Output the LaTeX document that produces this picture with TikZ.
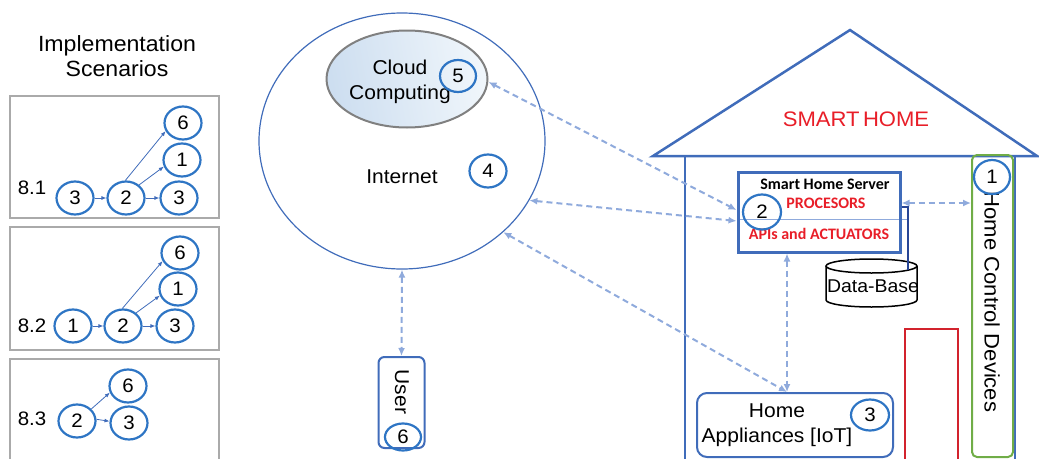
\documentclass[tikz,border=0pt]{standalone}
\usepackage{fontspec}
\setmainfont[FakeStretch=1.05]{Liberation Sans}
\newfontfamily\carl{Carlito}
\usetikzlibrary{shapes.geometric,arrows.meta,calc}
\definecolor{numblue}{RGB}{46,117,196}
\definecolor{houseblue}{RGB}{64,108,186}
\definecolor{dashblue}{RGB}{143,170,220}
\definecolor{txtred}{RGB}{232,30,40}
\definecolor{rectred}{RGB}{210,35,45}
\definecolor{hgreen}{RGB}{112,173,71}
\definecolor{boxgrey}{RGB}{170,170,170}
\definecolor{dbline}{RGB}{40,70,150}
\definecolor{cloudA}{RGB}{205,222,240}
\definecolor{cloudB}{RGB}{240,246,251}
\tikzset{
  num/.style={ellipse, draw=numblue, line width=2.2pt, minimum width=37pt, minimum height=33pt, inner sep=0pt, font=\fontsize{19.5}{19.5}\selectfont},
  sarr/.style={draw=houseblue, line width=0.8pt, -{Latex[length=5pt,width=4pt]}},
  dasharr/.style={draw=dashblue, line width=2pt, dash pattern=on 6pt off 4pt, {Latex[length=8pt,width=7pt]}-{Latex[length=8pt,width=7pt]}},
  scbox/.style={draw=boxgrey, line width=2pt, inner sep=0pt},
  lbl/.style={inner sep=0pt, font=\fontsize{19.5}{19.5}\selectfont},
  big/.style={inner sep=0pt, align=center, font=\fontsize{20}{25}\selectfont},
  srv/.style={inner sep=0pt, font=\carl\bfseries\fontsize{16}{16}\selectfont}
}
\begin{document}
\begin{tikzpicture}[x=1pt,y=-1pt]
\useasboundingbox (0,0) rectangle (1039,458);

% ---------- Implementation scenarios ----------
\node[inner sep=0pt, align=center, font=\fontsize{22}{25}\selectfont] (title) at (117,56) {Implementation\\Scenarios};

\node[scbox, minimum width=209pt, minimum height=122pt] (box81) at (114.5,157) {};
\node[scbox, minimum width=209pt, minimum height=123pt] (box82) at (114.5,288.5) {};
\node[scbox, minimum width=209pt, minimum height=112pt] (box83) at (114.5,415) {};

\node[lbl] (l81) at (32,188) {8.1};
\node[num] (s1a) at (75,198) {3};
\node[num] (s1b) at (126,198) {2};
\node[num] (s1c) at (179,198) {3};
\node[num] (s1d) at (182,160) {1};
\node[num] (s1e) at (183,123) {6};
\draw[sarr] (s1a) -- (s1b);
\draw[sarr] (s1b) -- (s1c);
\draw[sarr] (s1b.45) -- (s1d.200);
\draw[sarr] (s1b.92) -- (s1e.205);

\node[lbl] (l82) at (32,326) {8.2};
\node[num] (s2a) at (73,326) {1};
\node[num] (s2b) at (123,326) {2};
\node[num] (s2c) at (175,326) {3};
\node[num] (s2d) at (178,289) {1};
\node[num] (s2e) at (180,253) {6};
\draw[sarr] (s2a) -- (s2b);
\draw[sarr] (s2b) -- (s2c);
\draw[sarr] (s2b.45) -- (s2d.200);
\draw[sarr] (s2b.92) -- (s2e.205);

\node[lbl] (l83) at (32,419) {8.3};
\node[num] (s3a) at (77,421) {2};
\node[num] (s3b) at (128,386) {6};
\node[num] (s3c) at (129,423) {3};
\draw[sarr] (s3a.40) -- (s3b.200);
\draw[sarr] (s3a.5) -- (s3c.175);

% ---------- Internet ----------
\node[ellipse, draw=houseblue, line width=1.2pt, minimum width=286pt, minimum height=256pt] (inet) at (402,141) {};
\node[ellipse, draw=gray, line width=2pt, minimum width=161pt, minimum height=97pt, left color=cloudA, right color=cloudB, shading angle=100] (cloud) at (407,79) {};
\node[big] (cloudlbl) at (400,82) {Cloud\\Computing};
\node[num, minimum width=36pt, minimum height=32pt] (n5) at (458,76) {5};
\node[big] (inetlbl) at (402,177) {Internet};
\node[num] (n4) at (488,171) {4};

% ---------- User ----------
\node[draw=houseblue, line width=2pt, rounded corners=6pt, minimum width=46pt, minimum height=91pt, inner sep=0pt] (user) at (401.5,402.5) {};
\node[big, rotate=-90] (userlbl) at (402,392) {User};
\node[num, minimum width=36pt, minimum height=27pt] (n6) at (403,437) {6};

% ---------- House ----------
\draw[houseblue, line width=2.5pt, line join=miter] (653,156) -- (850,30) -- (1037,156) -- cycle;
\draw[houseblue, line width=2.5pt] (685,156) -- (685,460);
\draw[houseblue, line width=2.5pt] (1015,156) -- (1015,460);
\node[inner sep=0pt, text=txtred, font=\fontsize{21}{21}\selectfont] (smarthome) at (856,119) {SMART\,HOME};

% Home control devices
\node[draw=hgreen, line width=2pt, rounded corners=5pt, minimum width=41pt, minimum height=302pt, inner sep=0pt] (hcd) at (992.5,306) {};
\node[inner sep=0pt, rotate=-90, font=\fontsize{21}{21}\selectfont] (hcdlbl) at (992,302) {Home Control Devices};
\node[num, minimum width=36pt, minimum height=34pt] (n1) at (992,177) {1};

% red rectangle
\node[draw=rectred, line width=2pt, minimum width=53pt, minimum height=144pt, inner sep=0pt] (redbox) at (931.5,401) {};

% Server
\draw[dashblue, line width=1pt] (740,219) -- (908,219);
\node[draw=houseblue, line width=3pt, minimum width=162pt, minimum height=80pt, inner sep=0pt] (server) at (819,212) {};
\node[srv] (srvt) at (825,184) {Smart Home Server};
\node[srv, text=txtred] (proc) at (826,203) {PROCESORS};
\node[srv, text=txtred] (apis) at (819,234) {APIs and ACTUATORS};
\node[num, minimum width=38pt, minimum height=35pt] (n2) at (762,212) {2};

% Database
\node[inner sep=0pt, minimum width=91pt, minimum height=48pt] (db) at (871.5,283) {};
\fill[white] (826,266) -- (826,300) arc[start angle=180,end angle=360,x radius=45.5pt,y radius=7pt] -- (917,266) -- cycle;
\draw[black, line width=1.5pt] (826,266) -- (826,300) arc[start angle=180,end angle=360,x radius=45.5pt,y radius=7pt] -- (917,266);
\draw[black, line width=1.5pt, fill=white] (871.5,266) ellipse[x radius=45.5pt, y radius=7pt];
\draw[dbline, line width=1.2pt] ([yshift=5pt]server.east) -| ([xshift=36.5pt,yshift=-11pt]db.north);
\node[inner sep=0pt, font=\fontsize{18.5}{18.5}\selectfont] (dblbl) at (873,286) {Data-Base};

% Home appliances
\node[draw=houseblue, line width=2pt, rounded corners=10pt, minimum width=196pt, minimum height=64pt, inner sep=0pt] (app) at (795,425) {};
\node[big] (applbl) at (777,425) {Home\\Appliances [IoT]};
\node[num, minimum width=38pt, minimum height=31pt] (n3) at (870,415) {3};

% ---------- dashed connectors ----------
\draw[dasharr] ([yshift=-3pt]cloud.east) -- ([yshift=2pt]server.west);
\draw[dasharr] (inet.-25) -- ([yshift=-9pt]server.west);
\draw[dasharr] (inet.-42) -- ([xshift=-8pt]app.north);
\draw[dasharr] (inet.south) -- (user.north);
\draw[dasharr] ([xshift=-32pt]server.south) -- ([xshift=-8pt]app.north);
\coordinate (se) at ([yshift=9pt]server.east);
\draw[dasharr] (se) -- (se -| hcd.west);
\end{tikzpicture}
\end{document}
